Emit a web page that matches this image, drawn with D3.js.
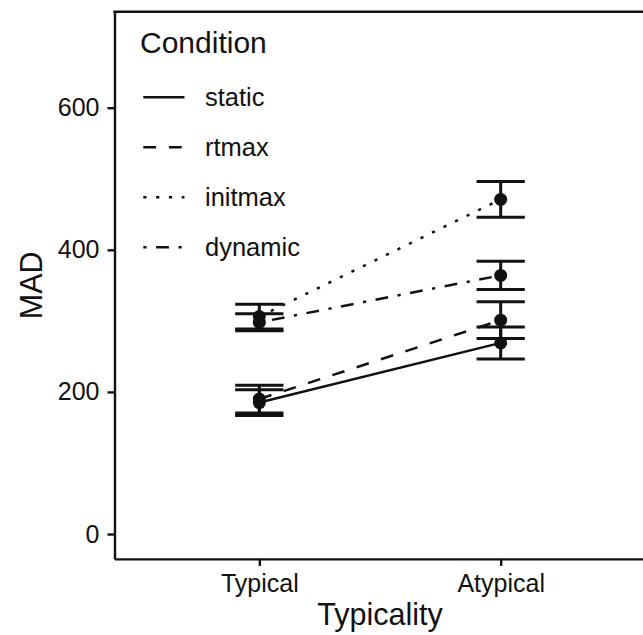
<!DOCTYPE html>
<html>
<head>
<meta charset="utf-8">
<script src="https://cdn.jsdelivr.net/npm/d3@7"></script>
<style>
  body { margin: 0; background: #fff; }
  svg text { font-family: "Liberation Sans", Arial, sans-serif; fill: #111; }
</style>
</head>
<body>
<div id="chart"></div>
<script>
var typicality = ['Typical', 'Atypical'];
var conditions = ['static', 'rtmax', 'initmax', 'dynamic'];
var yTicks = [0, 200, 400, 600];

// mean MAD and standard error per condition (Typical, Atypical)
var meanStatic = [185, 269];
var seStatic = [18, 22.5];
var meanRtmax = [190, 301];
var seRtmax = [19.5, 25.8];
var meanInitmax = [306, 471];
var seInitmax = [17.5, 25];
var meanDynamic = [298, 364];
var seDynamic = [12, 20];

var series = [
  { name: 'static', mean: meanStatic, se: seStatic, dash: null },
  { name: 'rtmax', mean: meanRtmax, se: seRtmax, dash: '12.8,12.8' },
  { name: 'initmax', mean: meanInitmax, se: seInitmax, dash: '3.2,9.6' },
  { name: 'dynamic', mean: meanDynamic, se: seDynamic, dash: '3.2,9.6,12.8,9.6' }
];

var width = 643, height = 635;
var panel = { left: 114.5, right: 645.5, top: 11.8, bottom: 558.9 };

var svg = d3.select('#chart').append('svg')
  .attr('width', width)
  .attr('height', height);

var x = d3.scalePoint()
  .domain(typicality)
  .range([panel.left, panel.right])
  .padding(0.6);

var y = d3.scaleLinear()
  .domain([-35, 735])
  .range([panel.bottom, panel.top]);

// lines
var line = d3.line()
  .x(function (d, i) { return x(typicality[i]); })
  .y(function (d) { return y(d); });

series.forEach(function (s) {
  svg.append('path')
    .attr('d', line(s.mean))
    .attr('fill', 'none')
    .attr('stroke', '#111')
    .attr('stroke-width', 2.5)
    .attr('stroke-dasharray', s.dash);
});

// error bars
var capHalf = x.step() * 0.1;
series.forEach(function (s) {
  s.mean.forEach(function (m, i) {
    var cx = x(typicality[i]);
    var lo = y(m - s.se[i]), hi = y(m + s.se[i]);
    var g = svg.append('g')
      .attr('stroke', '#111')
      .attr('stroke-width', 3);
    g.append('line').attr('x1', cx).attr('x2', cx).attr('y1', lo).attr('y2', hi);
    g.append('line').attr('x1', cx - capHalf).attr('x2', cx + capHalf).attr('y1', lo).attr('y2', lo);
    g.append('line').attr('x1', cx - capHalf).attr('x2', cx + capHalf).attr('y1', hi).attr('y2', hi);
  });
});

// points
series.forEach(function (s) {
  svg.selectAll(null)
    .data(s.mean)
    .enter().append('circle')
    .attr('cx', function (d, i) { return x(typicality[i]); })
    .attr('cy', function (d) { return y(d); })
    .attr('r', 6.5)
    .attr('fill', '#111');
});

// axes
var yAxis = svg.append('g')
  .attr('transform', 'translate(' + panel.left + ',0)')
  .call(d3.axisLeft(y).tickValues(yTicks).tickSize(7).tickSizeOuter(0).tickPadding(8));
var xAxis = svg.append('g')
  .attr('transform', 'translate(0,' + panel.bottom + ')')
  .call(d3.axisBottom(x).tickSize(7).tickSizeOuter(0).tickPadding(8));

[yAxis, xAxis].forEach(function (a) {
  a.select('.domain').attr('stroke', '#111').attr('stroke-width', 2.4);
  a.selectAll('.tick line').attr('stroke', '#111').attr('stroke-width', 2.4);
  a.selectAll('.tick text')
    .style('font-family', '"Liberation Sans", Arial, sans-serif')
    .attr('font-size', 25)
    .attr('fill', '#111');
});
xAxis.selectAll('.tick text').attr('dy', '0.71em');

// top border
svg.append('line')
  .attr('x1', panel.left - 1.2).attr('x2', panel.right)
  .attr('y1', panel.top).attr('y2', panel.top)
  .attr('stroke', '#111').attr('stroke-width', 2.4);

// axis titles
svg.append('text')
  .attr('x', (panel.left + panel.right) / 2)
  .attr('y', 625)
  .attr('text-anchor', 'middle')
  .attr('font-size', 30.5)
  .text('Typicality');

svg.append('text')
  .attr('transform', 'translate(42,' + ((panel.top + panel.bottom) / 2) + ') rotate(-90)')
  .attr('text-anchor', 'middle')
  .attr('font-size', 30.5)
  .text('MAD');

// legend
var legend = svg.append('g');
legend.append('text')
  .attr('x', 140)
  .attr('y', 52.5)
  .attr('font-size', 30)
  .text('Condition');

series.forEach(function (s, i) {
  var ly = 97.3 + i * 50;
  legend.append('line')
    .attr('x1', 143.3).attr('x2', 184.5)
    .attr('y1', ly).attr('y2', ly)
    .attr('stroke', '#111')
    .attr('stroke-width', 2.5)
    .attr('stroke-dasharray', s.dash);
  legend.append('text')
    .attr('x', 205)
    .attr('y', ly + 8.8)
    .attr('font-size', 25.5)
    .text(conditions[i]);
});
</script>
</body>
</html>
